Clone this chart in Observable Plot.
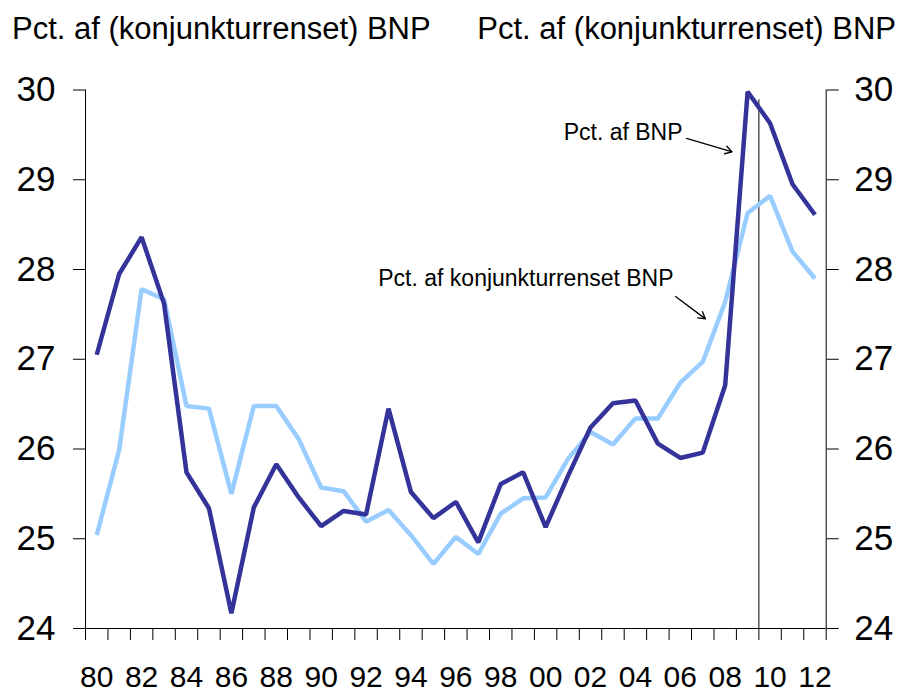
<!DOCTYPE html>
<html>
<head>
<meta charset="utf-8">
<script src="https://cdn.jsdelivr.net/npm/d3@7"></script>
<script src="https://cdn.jsdelivr.net/npm/@observablehq/plot@0.6"></script>
<style>
  html, body { margin: 0; padding: 0; background: #fff; }
  #wrap { width: 898px; position: relative; font-family: "Liberation Sans", Arial, sans-serif; }
  #head { position: relative; height: 50px; }
  #head span { position: absolute; top: 11px; font-size: 31px; line-height: normal; color: #000; white-space: nowrap; }
  #hl { left: 12px; }
  #hr { right: 2px; }
  svg { display: block; }
</style>
</head>
<body>
<div id="wrap">
  <div id="head"><span id="hl">Pct. af (konjunkturrenset) BNP</span><span id="hr">Pct. af (konjunkturrenset) BNP</span></div>
  <div id="chart"></div>
</div>
<script>
const years = [1980,1981,1982,1983,1984,1985,1986,1987,1988,1989,1990,1991,1992,1993,1994,1995,1996,1997,1998,1999,2000,2001,2002,2003,2004,2005,2006,2007,2008,2009,2010,2011,2012];
const pctBNP = [27.05,27.95,28.36,27.62,25.74,25.34,24.17,25.35,25.83,25.46,25.14,25.31,25.27,26.45,25.52,25.23,25.41,24.96,25.61,25.74,25.13,25.70,26.24,26.51,26.54,26.06,25.90,25.96,26.71,29.98,29.63,28.95,28.61];
const pctKBNP = [25.04,25.99,27.78,27.67,26.48,26.45,25.50,26.48,26.48,26.11,25.57,25.53,25.19,25.32,25.04,24.72,25.02,24.83,25.28,25.45,25.46,25.89,26.19,26.05,26.34,26.34,26.74,26.97,27.64,28.63,28.82,28.20,27.90];
const yTicks = [24,25,26,27,28,29,30];
const xTickYears = d3.range(1980, 2014);
const xLabelYears = [1980,1982,1984,1986,1988,1990,1992,1994,1996,1998,2000,2002,2004,2006,2008,2010,2012];
const xLabels = ["80","82","84","86","88","90","92","94","96","98","00","02","04","06","08","10","12"];
const headerTitle = "Pct. af (konjunkturrenset) BNP";
const annoText = ["Pct. af BNP", "Pct. af konjunkturrenset BNP"];
const annoX = [2006.6, 2006.2];
const annoY = [29.53, 27.90];
const arrowX1 = [2006.78, 2006.29];
const arrowY1 = [29.46, 27.70];
const arrowX2 = [2008.81, 2007.62];
const arrowY2 = [29.31, 27.45];
const markerYear = 2010;
const markerTop = 29.89;

const dark = "#333399";
const light = "#99ccff";

const rowsBNP = years.map((y, i) => ({year: y, value: pctBNP[i]}));
const rowsKBNP = years.map((y, i) => ({year: y, value: pctKBNP[i]}));
const labelRows = xLabelYears.map((y, i) => ({year: y, label: xLabels[i]}));
const annoRows = annoText.map((t, i) => ({text: t, x: annoX[i], y: annoY[i]}));
const arrowRows = arrowX1.map((x, i) => ({x1: x, y1: arrowY1[i], x2: arrowX2[i], y2: arrowY2[i]}));

const plot = Plot.plot({
  width: 898,
  height: 644,
  marginTop: 39.5,
  marginBottom: 66,
  marginLeft: 85,
  marginRight: 72.3,
  style: {fontFamily: "'Liberation Sans', Arial, sans-serif", color: "#000", background: "#fff", overflow: "visible"},
  x: {domain: [1980, 2013]},
  y: {domain: [24, 30]},
  marks: [
    Plot.ruleX([1980, 2013], {y1: 24, y2: 30, stroke: "#000", strokeWidth: 1}),
    Plot.ruleY([24], {x1: 1980, x2: 2013, stroke: "#000", strokeWidth: 1}),
    Plot.ruleX([markerYear], {y1: 24, y2: markerTop, stroke: "#000", strokeWidth: 1}),
    Plot.axisY({anchor: "left", ticks: yTicks, tickSize: 12, tickPadding: 18, fontSize: 35, label: null, tickFormat: d => String(d)}),
    Plot.axisY({anchor: "right", ticks: yTicks, tickSize: 12, tickPadding: 16, fontSize: 35, label: null, tickFormat: d => String(d)}),
    Plot.axisX({ticks: xTickYears, tickSize: 12, tickFormat: () => "", label: null}),
    Plot.text(labelRows, {x: d => d.year + 0.5, y: 24, text: "label", fontSize: 30, lineAnchor: "middle", dy: 49, fill: "#000"}),
    Plot.line(rowsKBNP, {x: d => d.year + 0.5, y: "value", stroke: light, strokeWidth: 4.5, strokeLinejoin: "miter", strokeLinecap: "butt"}),
    Plot.line(rowsBNP, {x: d => d.year + 0.5, y: "value", stroke: dark, strokeWidth: 4.5, strokeLinejoin: "miter", strokeLinecap: "butt"}),
    Plot.text(annoRows, {x: "x", y: "y", text: "text", textAnchor: "end", lineAnchor: "middle", fontSize: 23, fill: "#000"}),
    Plot.arrow(arrowRows, {x1: "x1", y1: "y1", x2: "x2", y2: "y2", stroke: "#000", strokeWidth: 1.3, headLength: 9})
  ]
});
document.getElementById("chart").appendChild(plot);
</script>
</body>
</html>
